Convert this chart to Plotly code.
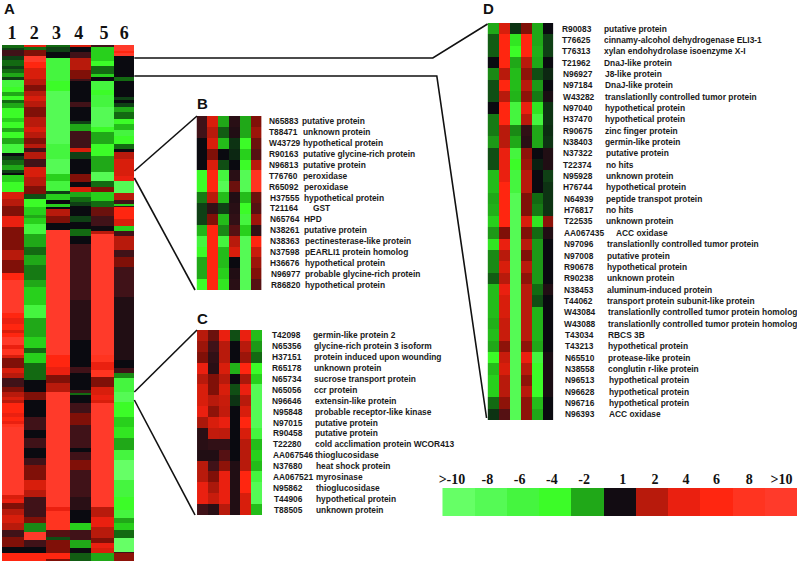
import numpy as np
import plotly.graph_objects as go

W, H = 799, 561

# Panel A: each column as runs of a value; ends = row number where the run stops (rows are numbered from 45)
a_first_row = 45
a1_vals = [-1.6,-1.3,1.3,-1.3,-1.6,-1.3,-1.6,-2,-1.3,-6,-4,-2,-4,-1.6,-2,-4,-3,-4,-2,-4,-2,-6,0,-1.3,-1.6,-2,-1.3,0,-3,-4,
           3,2,1.6,4,1.6,2,1.6,6,10,6,4,6,3,6,10,4,8,3,1.6,3,2,1.3,1.6,2,3,2,6,4,6,4,8,10,3,4,1.6,2,3,2,1.3,1.6,0,6]
a1_ends = [48,50,56,60,66,69,73,77,80,87,92,96,100,103,108,118,122,128,132,138,144,153,156,160,165,170,173,175,182,192,
           199,206,216,227,250,260,273,280,313,318,324,330,333,337,345,349,355,358,368,373,378,387,392,397,400,403,413,417,421,424,427,495,499,503,509,515,523,530,537,547,553,561]
a2_vals = [4,-1.6,1.6,10,6,3,2,1.6,2,3,2,1.6,2,3,2,1.6,2,1.3,2,1.3,3,2,1.6,-1.4,-4,-3,-2,-3,-6,-2,-1.6,-2,-1.7,-2,-3,-6,-2,-3,-1.6,-3,-1.6,0,1.6,0,1.3,0,1.3,0,1.3,1.6,3,2,1.3,1.6,-1.8,10,1.3,0,6]
a2_ends = [47,50,56,62,68,79,85,91,96,101,107,117,127,132,138,144,148,152,159,167,177,186,194,199,207,215,218,224,234,247,255,265,280,287,305,318,337,348,353,363,380,392,400,417,430,438,448,458,465,480,490,497,517,523,532,540,547,553,561]
a3_vals = [-1.6,-1.3,0,-6,-4,-8,-6,-8,-3,-6,-1.3,-3,0,-3,0,2,1.6,0,10,6,4,1.6,2,10,4,8,1.4,-1.4,1.6,6,1.6]
a3_ends = [47,52,58,81,91,144,159,174,181,191,194,200,204,207,209,216,223,230,355,367,375,383,392,507,511,530,537,540,553,559,561]
a4_vals = [3,0,1.3,2,1.6,1.3,0,1.3,0,-1.3,-2,1.3,3,-1.3,0,1.6,0,3,-2,-1.6,-1.3,0,-1.3,0,-1.6,0,1.3,1.15,0,1.3,0,1.3,-1.6,0,1.3,1.6,1.3,0,1.3,1.6,1.3,1.15,0,-3,1.3,-2,0.5,-1.5]
a4_ends = [47,52,58,70,79,81,102,107,121,124,131,148,152,159,174,182,187,192,197,202,206,216,222,229,236,244,300,340,367,373,390,393,395,403,413,425,448,452,460,470,497,510,523,530,540,548,553,561]
a5_vals = [1.3,-3,-4,-1.6,-3,0,-6,-4,-6,-8,-4,-2,-4,-2,-8,-1.6,1.6,-3,-1.6,1.5,1.3,0.5,2,10,8,4,8,1.6,3,4,3,10,2,4,2,1.6,4,3,-2]
a5_ends = [47,61,66,74,77,81,90,95,107,127,132,144,156,172,181,187,192,201,207,216,226,231,234,355,362,370,377,387,395,400,403,507,517,527,538,543,548,553,561]
a6_vals = [10,6,10,0,-1.6,0,-1.3,0,-1.3,-2,-1.6,-4,-2.5,-6,-4,-1.6,0,2,3,4,-8,2,1.3,-3,1.3,6,3,-3,1.3,2,1.3,1.6,1.3,1.1,0,1.3,-1.8,-6,-8,-4,-3,-3.5,-2,-6,-10,-6,-4,-6,-2,-3,-1.6,-10,1.3,1.7]
a6_ends = [51,53,56,77,81,97,100,103,107,112,119,124,130,136,144,149,152,159,176,181,193,200,204,206,207,219,226,231,236,250,257,267,297,360,368,373,378,392,402,417,427,438,450,460,480,497,510,518,523,530,538,552,553,561]

a_labels = ["1", "2", "3", "4", "5", "6"]

# Panel B
b_ids = ["N65883","T88471","W43729","R90163","N96813","T76760","R65092","H37555","T21164","N65764","N38261","N38363","N37598","H36676","N96977","R86820"]
b_names = ["putative protein","unknown protein","hypothetical protein","putative glycine-rich protein","putative protein","peroxidase","peroxidase","hypothetical protein","GST","HPD","putative protein","pectinesterase-like protein","pEARLI1 protein homolog","hypothetical protein","probable glycine-rich protein","hypothetical protein"]
b_z = [[1.3,3,-2,1.15,-2,1.6],[1.3,2,-1.5,1.1,-2,1.8],[0,3,-2.5,-1.2,-4,1.5],[0,1.6,0,-1.1,-3,1.4],
       [0,3,-1.4,0,-4,2],[-4,6,-6,1.15,-8,8],[-4,6,-8,1.5,-8,8],[-1.7,2,-2.5,1.1,-2.5,1.5],
       [-1.3,1.2,-1.3,1.15,-4,1.4],[-1.3,1.6,-2.5,1.2,-6,1.8],[-2.3,6,-1.8,1.4,-3,1.2],[-6,6,-6,2,-8,6],
       [-4,6,-2.5,3,-8,2.5],[-2,6,-2.5,0,-8,1.8],[-2,6,-3,1.1,-8,1.6],[-4,6,-3.5,1.15,-8,1.4]]

# Panel C
c_ids = ["T42098","N65356","H37151","R65178","N65734","N65056","N96646","N95848","N97015","R90458","T22280","AA067546","N37680","AA067521","N95862","T44906","T88505"]
c_names = ["germin-like protein 2","glycine-rich protein 3 isoform","protein induced upon wounding","unknown protein","sucrose transport protein","ccr protein","extensin-like protein","probable receptor-like kinase","putative protein","putative protein","cold acclimation protein WCOR413","thioglucosidase","heat shock protein","myrosinase","thioglucosidase","hypothetical protein","unknown protein"]
c_z = [[2,1.5,4,-1.4,4,-2.5],[1.8,1.3,2,0,2,-1.9],[1.6,1.2,2,0,1.8,-1.6],[4,1.15,3,-2.2,6,-4],
       [2,1.6,2,0,1.9,-3],[3,1.6,3,-1.4,4,-8],[3,2,2.5,-1.2,2,-8],[4,1.7,2.3,0,3,-8],
       [1.9,3,4,0,6,-8],[1.15,2.3,2.2,0,3,-6],[1.15,1.2,1.2,0,2,-2.5],[1.1,1.1,1.4,0,2,-3],
       [2,1.3,1.7,1.1,2,-2.5],[2,1.6,4,1.1,6,-6],[4,1.9,4,1.1,6,-8],[4,2.5,4,1.1,3,-8],[1.3,1.15,2,1.1,3,-2.5]]

# Panel D
d_ids = ["R90083","T76625","T76313","T21962","N96927","N97184","W43282","N97040","H37470","R90675","N38403","N37322","T22374","N95928","H76744","N64939","H76817","T22535","AA067435","N97096","N97008","R90678","R90238","N38453","T44062","W43084","W43088","T43034","T43213","N65510","N38558","N96513","N96628","N96716","N96393"]
d_names = ["putative protein","cinnamy-alcohol dehydrogenase ELI3-1","xylan endohydrolase isoenzyme X-I","DnaJ-like protein","J8-like protein","DnaJ-like protein","translationlly controlled tumor protein","hypothetical protein","hypothetical protein","zinc finger protein","germin-like protein","putative protein","no hits","unknown protein","hypothetical protein","peptide transpot protein","no hits","unknown protein","ACC oxidase","translationlly controlled tumor protein","putative protein","hypothetical protein","unknown protein","aluminum-induced protein","transport protein subunit-like protein","translationlly controlled tumor protein homolog","translationlly controlled tumor protein homolog","RBCS 3B","hypothetical protein","protease-like protein","conglutin r-like protein","hypothetical protein","hypothetical protein","hypothetical protein","ACC oxidase"]
d_z = [[-2,3,-1.2,1.6,-2,0],[-1.5,6,-3.5,6,-2,-1.3],[-1.5,6,-4,6,-2.2,-1.3],[0,6,-2,2,-2,0],
       [-1.8,2,-2.5,1.7,-1.4,-1.1],[-1.4,6,-2.5,2,-1.9,0],[-1.4,2,-2.3,1.7,-1.7,1.05],[0,6,-6,4,-3.5,-1.2],
       [-1.7,6,-6,2,-6,-1.2],[-1.7,2,-1.8,1.2,-2,-1.15],[-1.9,2,-2,1.15,-2,-1.2],[-1.4,4,-6,1.7,0,1.1],
       [-1.4,4,-4,1.8,-1.05,1.1],[-2.5,4,-6,2,0,-1.3],[-2.5,6,-6,2,0,-1.2],[-2,6,-8,1.6,-1.6,-1.2],
       [-2.2,6,-8,1.6,-1.7,-1.2],[-3,6,-8,3,-3.5,1.7],[-1.9,1.6,-8,1.6,-1.6,1.1],[-3.5,4,-8,2,-1.9,0],
       [-1.8,2,-8,1.6,-1.9,0],[-1.8,3,-8,2,-1.9,0],[-1.5,2,-8,1.7,-1.9,0],[-2.5,4,-8,2,-1.6,1.1],
       [-2.5,3,-8,2,-1.4,0],[-2.5,3,-8,2,-2.3,0],[-2.2,2.5,-8,2,-2.3,0],[-2.5,2.5,-8,2,-2.3,0],
       [-2,1.7,-8,1.7,-2,0],[-4,2.5,-8,4,-6,1.05],[-2.5,3,-8,2,-4,1.05],[-3,2,-8,1.7,-4,1.05],
       [-3,2,-8,2,-4,1.05],[-1.6,1.7,-8,1.7,-2.5,0],[-1.2,1.4,-8,1.7,-2,0]]

# Colour key
key_labels = [">-10","-8","-6","-4","-2","1","2","4","6","8",">10"]
key_values = [-10,-8,-6,-4,-2,1,2,4,6,8,10]

scale_stops = [(-10,"#66ff66"),(-8,"#55fa55"),(-6,"#45f53f"),(-4,"#3cfc28"),(-3,"#28d01c"),(-2,"#20a818"),
               (-1.6,"#136a12"),(-1.3,"#0f4015"),(-1,"#0a1a10"),(0,"#0a0a10"),(1,"#120c12"),(1.3,"#401218"),
               (1.6,"#801008"),(2,"#b81a0c"),(3,"#d81e0c"),(4,"#ea2010"),(6,"#ff2610"),(8,"#ff3420"),(10,"#ff3a2a")]
colorscale = [[(v + 10) / 20, c] for v, c in scale_stops]


def expand(vals, ends):
    return np.repeat(vals, np.diff([a_first_row] + ends))


a_z = np.column_stack([expand(a1_vals, a1_ends), expand(a2_vals, a2_ends), expand(a3_vals, a3_ends),
                       expand(a4_vals, a4_ends), expand(a5_vals, a5_ends), expand(a6_vals, a6_ends)]).tolist()

fig = go.Figure()

# axis number, left, right, top, bottom in pixels
panels = {
    "a": (1, 0, 133, 45, 561),
    "b": (2, 195.5, 261, 116, 290),
    "c": (3, 196, 261.5, 330, 515),
    "d": (4, 488, 554, 23, 420),
    "key": (5, 442.5, 799, 488, 516),
}


def add_panel(key, z, x_edges=None):
    num, left, right, top, bottom = panels[key]
    if x_edges is None:
        x_edges = list(range(len(z[0]) + 1))
    fig.add_trace(go.Heatmap(z=z, x=x_edges, y=list(range(len(z) + 1)), coloraxis="coloraxis",
                             xaxis=f"x{num}", yaxis=f"y{num}", hoverinfo="skip"))
    fig.layout[f"xaxis{num}"] = dict(domain=[left / W, right / W], range=[x_edges[0], x_edges[-1]], anchor=f"y{num}",
                                     showgrid=False, zeroline=False, showticklabels=False, ticks="")
    fig.layout[f"yaxis{num}"] = dict(domain=[1 - bottom / H, 1 - top / H], range=[len(z), 0], anchor=f"x{num}",
                                     showgrid=False, zeroline=False, showticklabels=False, ticks="")


add_panel("a", a_z, x_edges=[0, 22, 44, 67, 88, 111, 131])
add_panel("b", b_z)
add_panel("c", c_z)
add_panel("d", d_z)
add_panel("key", [key_values])

# sample numbers and key labels are real axis ticks
fig.update_layout(
    xaxis1=dict(side="top", showticklabels=True, tickvals=[10, 32, 54, 76, 101, 121], ticktext=a_labels, ticklen=0,
                ticklabelstandoff=1, tickfont=dict(family="Liberation Serif", size=18, color="#111", weight="bold")),
    xaxis5=dict(side="top", showticklabels=True, tickvals=[0.3, 1.4, 2.4, 3.4, 4.4, 5.6, 6.6, 7.56, 8.5, 9.52, 10.52],
                ticktext=key_labels, ticklen=0,
                tickfont=dict(family="Liberation Serif", size=14, color="#111", weight="bold")),
)


def text_at(x, y, s, size=8.4, family="Liberation Sans", color="#1a1a1a"):
    # annotation boxes carry a little padding, take it off the left position
    fig.add_annotation(x=(x - 1) / W, y=1 - y / H, xref="paper", yref="paper", text=s, showarrow=False, xanchor="left",
                       yanchor="middle", borderpad=0, align="left",
                       font=dict(family=family, size=size, color=color, weight="bold"))


def add_labels(key, ids, names, id_x, name_x):
    # labels drift slightly to the right going down, as in the scanned figure
    _, _, _, top, bottom = panels[key]
    n = len(ids)
    row_h = (bottom - top) / n
    for i, (acc, name) in enumerate(zip(ids, names)):
        shift = i / (n - 1)
        text_at(id_x[0] + (id_x[1] - id_x[0]) * shift, top + (i + 0.5) * row_h, acc)
        nx = name_x[0] + (name_x[1] - name_x[0]) * shift
        if name == "GST":
            nx += 9
        if name == "ACC oxidase" and acc == "AA067435":
            nx += 9
        text_at(nx, top + (i + 0.5) * row_h, name)


add_labels("b", b_ids, b_names, (268, 270), (302, 305))
add_labels("c", c_ids, c_names, (271, 273), (313, 316))
add_labels("d", d_ids, d_names, (563, 566), (605, 610))

for letter, x, y in [("A", 2, 8), ("B", 196, 103), ("C", 196, 318), ("D", 483, 8)]:
    text_at(x, y, letter, size=15, color="#111")


def connector(points):
    path = "M " + " L ".join(f"{x / W} {1 - y / H}" for x, y in points)
    fig.add_shape(type="path", path=path, xref="paper", yref="paper", line=dict(color="#111", width=1.6))


connector([(133, 58), (433, 58), (488, 24)])
connector([(133, 76), (437, 76), (487, 418)])
connector([(133, 171), (196, 116)])
connector([(133, 178), (194, 290)])
connector([(133, 392), (196, 330)])
connector([(133, 400), (194, 515)])

fig.update_layout(
    width=W, height=H, margin=dict(l=0, r=0, t=0, b=0), paper_bgcolor="white", plot_bgcolor="white",
    showlegend=False,
    coloraxis=dict(colorscale=colorscale, cmin=-10, cmax=10, showscale=False),
)

# the page leaves a small gap on the left, pull the plot back to the window edge
fig.write_html("out.html", config={"displayModeBar": False},
               post_script="document.body.style.margin='0';document.body.style.overflow='hidden';"
                           "document.querySelector('.plotly-graph-div').style.marginLeft='-2px';")
